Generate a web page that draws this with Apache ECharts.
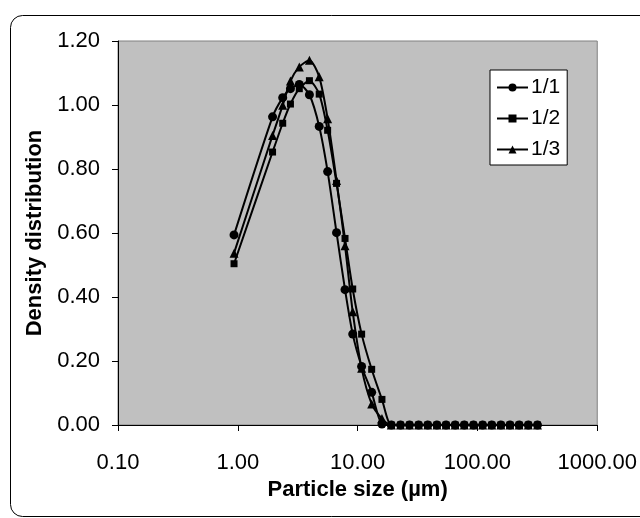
<!DOCTYPE html>
<html>
<head>
<meta charset="utf-8">
<script src="https://cdn.jsdelivr.net/npm/echarts@6/dist/echarts.min.js"></script>
<style>
html,body{margin:0;padding:0;background:#fff;}
#chart{width:640px;height:518px;}
</style>
</head>
<body>
<div id="chart"></div>
<script>
// Particle sizes (µm) shared by all series
var sizes = [0.93, 1.95, 2.37, 2.75, 3.26, 3.96, 4.78, 5.62, 6.67, 7.85, 9.1, 10.8, 13.1, 15.96,
             19.1, 22.8, 27.1, 32.3, 38.5, 45.9, 54.7, 65.2, 77.7, 92.7, 110.5, 131.7, 157, 187, 223, 266, 317];
var s11 = [0.594, 0.963, 1.023, 1.051, 1.064, 1.032, 0.933, 0.792, 0.601, 0.423, 0.284, 0.183, 0.102, 0.003,
           0,0,0,0,0,0,0,0,0,0,0,0,0,0,0,0,0];
var s12 = [0.504, 0.853, 0.943, 1.003, 1.051, 1.076, 1.034, 0.921, 0.755, 0.583, 0.425, 0.284, 0.174, 0.08,
           0,0,0,0,0,0,0,0,0,0,0,0,0,0,0,0,0];
var s13 = [0.537, 0.905, 0.999, 1.075, 1.119, 1.140, 1.088, 0.957, 0.764, 0.560, 0.354, 0.177, 0.066, 0.020,
           0,0,0,0,0,0,0,0,0,0,0,0,0,0,0,0,0];
var seriesNames = ['1/1', '1/2', '1/3'];
var xTicks = [0.1, 1, 10, 100, 1000];
var yTicks = [0, 0.2, 0.4, 0.6, 0.8, 1.0, 1.2];

function pairs(v){ return sizes.map(function(x,i){ return [x, v[i]]; }); }

var chart = echarts.init(document.getElementById('chart'));
var font = 'Liberation Sans, Arial, sans-serif';
function mk(name, data, symbol, size){
  return {
    name: name, type: 'line', data: pairs(data), smooth: 0.25,
    symbol: symbol, symbolSize: size, showAllSymbol: true,
    lineStyle: {color: '#000', width: 2},
    itemStyle: {color: '#000', borderColor:'#000', borderWidth:0},
    emphasis: {disabled: true}
  };
}
chart.setOption({
  animation: false,
  backgroundColor: '#fff',
  graphic: [{
    type: 'rect', left: 10, top: 15, z: -10,
    shape: {width: 660, height: 501, r: 12},
    style: {fill: '#fff', stroke: '#000', lineWidth: 1}
  }],
  grid: {left: 118, right: 38, top: 41, bottom: 93, show: true,
         backgroundColor: '#c0c0c0', borderColor: '#808080', borderWidth: 1},
  legend: {
    orient: 'vertical', left: 490, top: 70,
    data: seriesNames,
    backgroundColor: '#fff', borderColor: '#000', borderWidth: 1,
    padding: [7, 7, 5, 6], itemGap: 10, itemWidth: 31, itemHeight: 10,
    textStyle: {fontFamily: font, fontSize: 21, color: '#000', padding: [0,0,0,-2]}
  },
  xAxis: {
    type: 'log', logBase: 10, min: xTicks[0], max: xTicks[xTicks.length-1],
    name: 'Particle size (\u00b5m)', nameLocation: 'middle', nameGap: 54,
    nameTextStyle: {fontFamily: font, fontSize: 22, fontWeight: 'bold', color: '#000'},
    axisLine: {show: true, lineStyle: {color: '#000', width: 1}},
    axisTick: {show: true, inside: false, length: 6, lineStyle: {color: '#000'}},
    minorTick: {show: false},
    splitLine: {show: false},
    axisLabel: {fontFamily: font, fontSize: 22, color: '#000', margin: 27,
      formatter: function(v){ return v.toFixed(2); }}
  },
  yAxis: {
    type: 'value', min: yTicks[0], max: yTicks[yTicks.length-1], interval: 0.2,
    name: 'Density distribution', nameLocation: 'middle', nameGap: 72, nameRotate: 90,
    nameTextStyle: {fontFamily: font, fontSize: 22, fontWeight: 'bold', color: '#000'},
    axisLine: {show: true, lineStyle: {color: '#000', width: 1}},
    axisTick: {show: true, inside: false, length: 6, lineStyle: {color: '#000'}},
    splitLine: {show: false},
    axisLabel: {fontFamily: font, fontSize: 22, color: '#000', margin: 18,
      formatter: function(v){ return v.toFixed(2); }}
  },
  series: [
    mk(seriesNames[0], s11, 'circle', 9),
    mk(seriesNames[1], s12, 'rect', 7),
    mk(seriesNames[2], s13, 'triangle', 9)
  ]
});
</script>
</body>
</html>
